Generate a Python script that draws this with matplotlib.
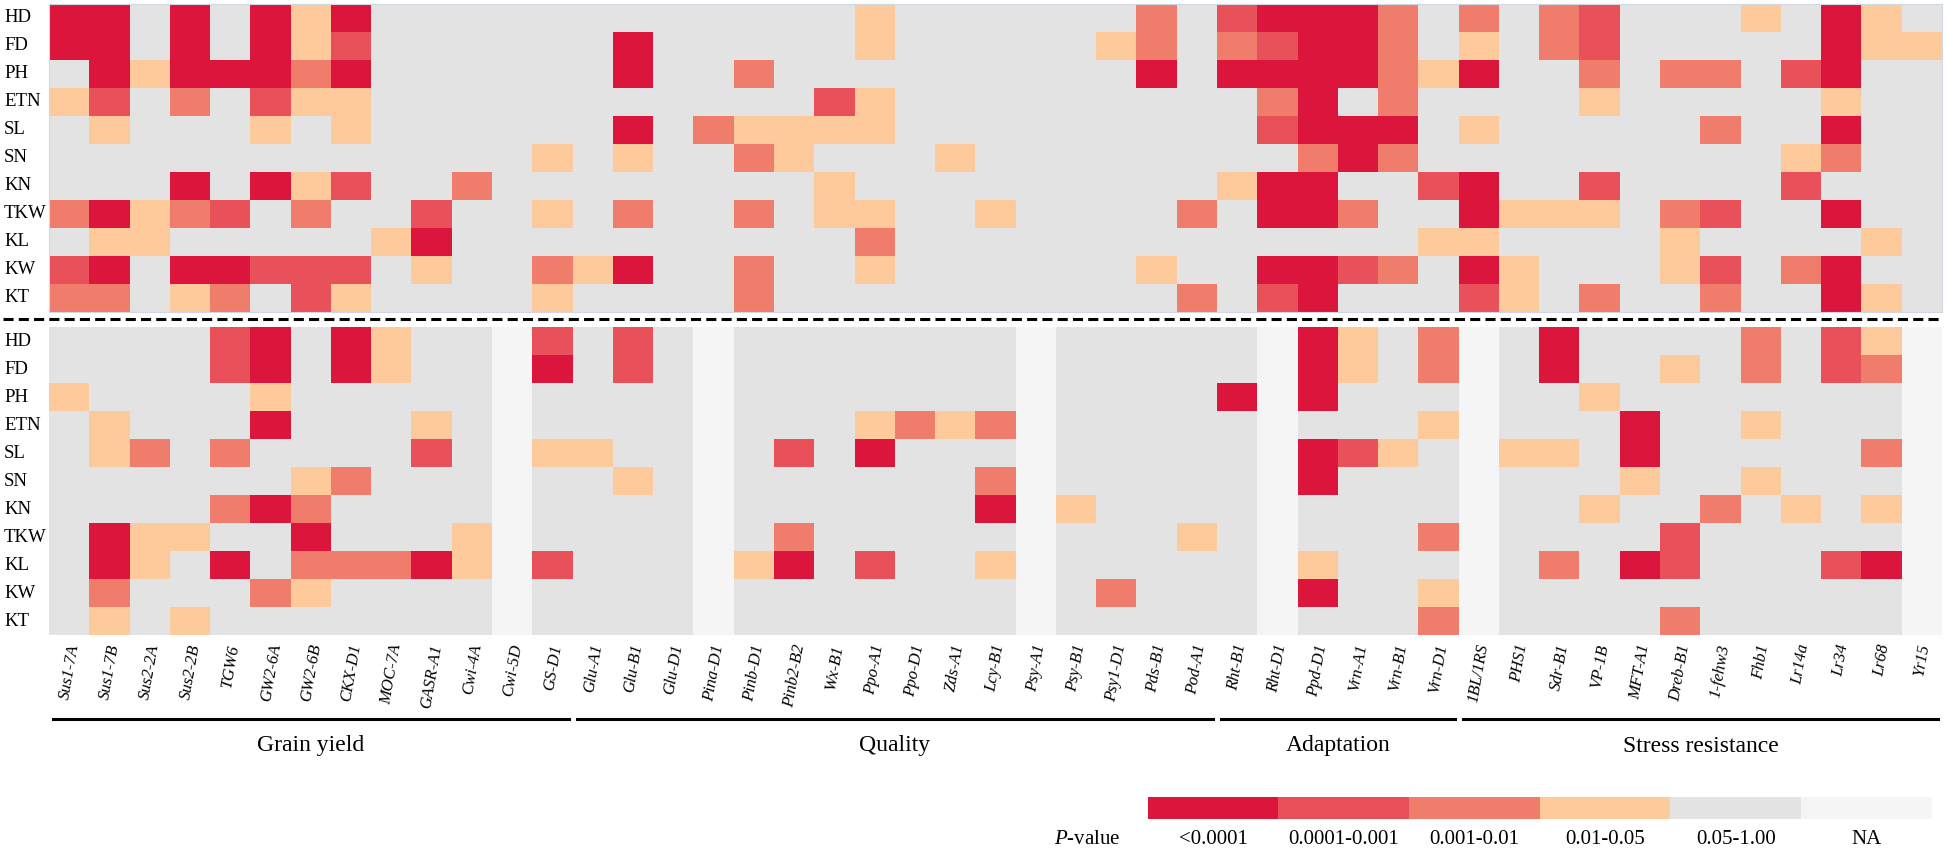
import matplotlib
matplotlib.use("Agg")
from matplotlib import pyplot as plt
from matplotlib.colors import ListedColormap, BoundaryNorm
from matplotlib.lines import Line2D
import matplotlib.transforms as mtransforms
import numpy as np

plt.rcParams["font.family"] = "Liberation Serif"
plt.rcParams["mathtext.fontset"] = "custom"
plt.rcParams["mathtext.rm"] = "Liberation Serif"
plt.rcParams["mathtext.it"] = "Liberation Serif:italic"

genes = ["Sus1-7A", "Sus1-7B", "Sus2-2A", "Sus2-2B", "TGW6", "GW2-6A", "GW2-6B", "CKX-D1",
         "MOC-7A", "GASR-A1", "Cwi-4A", "Cwi-5D", "GS-D1",
         "Glu-A1", "Glu-B1", "Glu-D1", "Pina-D1", "Pinb-D1", "Pinb2-B2", "Wx-B1", "Ppo-A1",
         "Ppo-D1", "Zds-A1", "Lcy-B1", "Psy-A1", "Psy-B1", "Psy1-D1", "Pds-B1", "Pod-A1",
         "Rht-B1", "Rht-D1", "Ppd-D1", "Vrn-A1", "Vrn-B1", "Vrn-D1",
         "1BL/1RS", "PHS1", "Sdr-B1", "VP-1B", "MFT-A1", "Dreb-B1", "1-fehw3", "Fhb1",
         "Lr14a", "Lr34", "Lr68", "Yr15"]
traits = ["HD", "FD", "PH", "ETN", "SL", "SN", "KN", "TKW", "KL", "KW", "KT"]
groups = ["Grain yield", "Quality", "Adaptation", "Stress resistance"]
group_sizes = [13, 16, 6, 12]
legend_labels = ["<0.0001", "0.0001-0.001", "0.001-0.01", "0.01-0.05", "0.05-1.00", "NA"]
colors = ["#DC153D", "#E8505A", "#F07D6C", "#FFCA9B", "#E3E3E3", "#F5F5F5"]

# p-value class per trait x gene: 0 <0.0001, 1, 2, 3 0.01-0.05, 4 n.s., 5 NA
top_codes = [
    "0040403044" "4444444444" "3444444241" "0002424214" "4434034",  # HD
    "0040403144" "4444044444" "3444443242" "1002434214" "4444033",  # FD
    "4030002044" "4444044244" "4444444040" "0002304424" "2241044",  # PH
    "3142413344" "4444444441" "3444444444" "2042444434" "4444344",  # ETN
    "4344434344" "4444042333" "3444444444" "1000434444" "4244044",  # SL
    "4444444444" "4434344234" "4434444444" "4202444444" "4443244",  # SN
    "4440403144" "2444444443" "4444444443" "0044104414" "4441444",  # KN
    "2032142441" "4434244243" "3443444424" "0024403334" "2144044",  # TKW
    "4334444430" "4444444444" "2444444444" "4444334444" "3444434",  # KL
    "1040011143" "4423044244" "3444444344" "0012403444" "3142044",  # KW
    "2243241344" "4434444244" "4444444424" "1044413424" "4244034",  # KT
]
bottom_codes = [
    "4444104034" "4514145444" "4444544444" "5034254044" "4424135",  # HD
    "4444104034" "4504145444" "4444544444" "5034254044" "3424125",  # FD
    "3444434444" "4544445444" "4444544440" "5044454434" "4444445",  # PH
    "4344404443" "4544445444" "3232544444" "5444354440" "4434445",  # ETN
    "4324244441" "4533445414" "0444544444" "5013453340" "4444425",  # SL
    "4444443244" "4544345444" "4442544444" "5044454443" "4434445",  # SN
    "4444202444" "4544445444" "4440534444" "5444454434" "4243435",  # KN
    "4033440444" "3544445424" "4444544434" "5444254444" "1444445",  # TKW
    "4034042220" "3514445304" "1443544444" "5344454240" "1444105",  # KL
    "4244423444" "4544445444" "4444542444" "5044354444" "4444445",  # KW
    "4343444444" "4544445444" "4444544444" "5444254444" "2444445",  # KT
]

top = np.array([[int(c) for c in row] for row in top_codes])
bottom = np.array([[int(c) for c in row] for row in bottom_codes])

cmap = ListedColormap(colors)
norm = BoundaryNorm(np.arange(-0.5, 6.5, 1), cmap.N)

W, H = 1946, 851
fig = plt.figure(figsize=(W / 100, H / 100), dpi=100)

def box(x0, y0, x1, y1):
    return [x0 / W, 1 - y1 / H, (x1 - x0) / W, (y1 - y0) / H]

ax_top = fig.add_axes(box(49.3, 4, 1942, 312))
ax_bot = fig.add_axes(box(49.3, 327, 1942, 635))

for ax, data in [(ax_top, top), (ax_bot, bottom)]:
    ax.imshow(data, cmap=cmap, norm=norm, aspect="auto", interpolation="nearest")
    ax.set_xticks([])
    ax.set_yticks([])
    trans = mtransforms.blended_transform_factory(fig.transFigure, ax.transData)
    for i, t in enumerate(traits):
        ax.text(4 / W, i, t, transform=trans, ha="left", va="center", fontsize=13.5)

for s in ax_top.spines.values():
    s.set_color("#cfd8e3")
    s.set_linewidth(0.8)
for s in ax_bot.spines.values():
    s.set_visible(False)

# dashed separator between the two panels
y_dash = 1 - 318.5 / H
fig.add_artist(Line2D([3 / W, 1 - 3 / W], [y_dash, y_dash], color="black", lw=2.2,
                      linestyle=(0, (3.3, 1.7))))

# gene names under the heatmap
tb = mtransforms.blended_transform_factory(ax_bot.transData, ax_bot.transAxes)
for j, g in enumerate(genes):
    ax_bot.text(j, -8 / 308, g, transform=tb, rotation=80, ha="center", va="top",
                fontsize=12, style="italic")

# group lines and labels
start = 0
for name, n in zip(groups, group_sizes):
    x0 = start - 0.5 + 0.1
    x1 = start + n - 0.5 - 0.1
    ax_bot.add_line(Line2D([x0, x1], [-84 / 308, -84 / 308], transform=tb, color="black",
                           lw=2.2, clip_on=False))
    ax_bot.text((x0 + x1) / 2, -111 / 308, name, transform=tb, ha="center", va="center",
                fontsize=17)
    start += n

# legend
ax_leg = fig.add_axes(box(1148, 797, 1932, 819))
ax_leg.imshow(np.arange(6).reshape(1, 6), cmap=cmap, norm=norm, aspect="auto")
ax_leg.set_xticks([])
ax_leg.set_yticks([])
for s in ax_leg.spines.values():
    s.set_visible(False)
lt = mtransforms.blended_transform_factory(ax_leg.transData, fig.transFigure)
for k, lab in enumerate(legend_labels):
    ax_leg.text(k, 1 - 840 / H, lab, transform=lt, ha="center", va="center", fontsize=15)
fig.text(1120 / W, 1 - 840 / H, "$P$-value", ha="right", va="center", fontsize=15)

fig.savefig("out.png", dpi=100)
